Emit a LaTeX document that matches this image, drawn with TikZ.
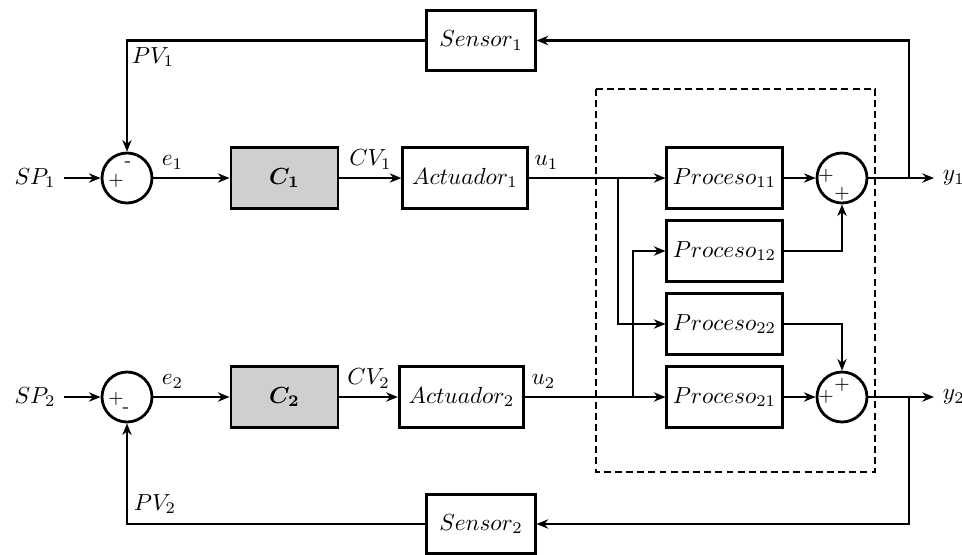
\documentclass[tikz,border=0pt]{standalone}
\usepackage{bm}
\usepackage{xcolor}
\usepackage{tikz}
\usetikzlibrary{arrows.meta,calc}

\begin{document}
\begin{tikzpicture}[x=0.43pt,y=-0.43pt,>={Stealth[length=5pt,width=4pt]},line width=0.95pt,
  blk/.style={draw,line width=1.25pt,minimum height=26pt,inner sep=2pt},
  ctrl/.style={blk,fill=black!19,minimum width=46pt},
  act/.style={blk,minimum width=53.5pt},
  proc/.style={blk,minimum width=49.5pt},
  sens/.style={blk,minimum width=46.5pt,minimum height=25.5pt},
  sumnode/.style={draw,circle,line width=1.2pt,minimum size=21.5pt,inner sep=0pt},
  sgn/.style={font=\footnotesize,inner sep=0pt}]
  \useasboundingbox (0,0) rectangle (962,554);
  % loop 1
  \node (sp1) at (35,178) {$SP_1$};
  \node[sumnode] (s1) at (127,178) {};
  \node[ctrl] (c1) at (284.5,178) {$\bm{C_1}$};
  \node[act] (a1) at (465,178) {$Actuador_1$};
  \node[sens] (sen1) at (481,40.5) {$Sensor_1$};
  \node[sgn] (s1m) at ($(s1)+(1,-14)$) {-};
  \node[sgn] (s1p) at ($(s1)+(-11,3)$) {+};
  % loop 2
  \node (sp2) at (35,397) {$SP_2$};
  \node[sumnode] (s2) at (127,397) {};
  \node[ctrl] (c2) at (284.5,397) {$\bm{C_2}$};
  \node[act] (a2) at (461.5,397) {$Actuador_2$};
  \node[sens] (sen2) at (481,524) {$Sensor_2$};
  \node[sgn] (s2p) at ($(s2)+(-11,2)$) {+};
  \node[sgn] (s2m) at ($(s2)+(-1,13)$) {-};
  % coupled process
  \draw[dashed,line width=1.2pt,dash pattern=on 3pt off 1.8pt] (596,89) rectangle (875,472);
  \node[proc] (p11) at (724.5,178) {$Proceso_{11}$};
  \node[proc] (p12) at (724.5,251) {$Proceso_{12}$};
  \node[proc] (p22) at (724.5,324) {$Proceso_{22}$};
  \node[proc] (p21) at (724.5,397) {$Proceso_{21}$};
  \node[sumnode] (s3) at (842,178) {};
  \node[sumnode] (s4) at (842,397) {};
  \node[sgn] (s3a) at ($(s3)+(-16,-2)$) {+};
  \node[sgn] (s3b) at ($(s3)+(0,16)$) {+};
  \node[sgn] (s4a) at ($(s4)+(0,-12)$) {+};
  \node[sgn] (s4b) at ($(s4)+(-16,0)$) {+};
  \node[anchor=west] (y1) at (934,178) {$y_1$};
  \node[anchor=west] (y2) at (934,397) {$y_2$};
  \coordinate (b1) at (618,178);
  \coordinate (b2) at (633,397);
  \coordinate (t1) at (909,178);
  \coordinate (t2) at (909,397);

  % forward paths
  \draw[->] (sp1) -- (s1);
  \draw[->] (s1) -- node[pos=0.25,above] (e1) {$e_1$} (c1);
  \draw[->] (c1) -- node[above] (cv1) {$CV_1$} (a1);
  \draw[->] (a1) -- node[pos=0.13,above] (u1) {$u_1$} (p11);
  \draw[->] (sp2) -- (s2);
  \draw[->] (s2) -- node[pos=0.25,above] (e2) {$e_2$} (c2);
  \draw[->] (c2) -- node[above] (cv2) {$CV_2$} (a2);
  \draw[->] (a2) -- node[pos=0.13,above] (u2) {$u_2$} (p21);
  % cross couplings
  \draw[->] (b1) |- (p22.west);
  \draw[->] (b2) |- (p12.west);
  \draw[->] (p11) -- (s3);
  \draw[->] (p12.east) -| (s3.south);
  \draw[->] (p22.east) -| (s4.north);
  \draw[->] (p21) -- (s4);
  \draw[->] (s3) -- (y1.west);
  \draw[->] (s4) -- (y2.west);
  % feedback
  \draw[->] (t1) |- (sen1.east);
  \draw[->] (sen1.west) -| (s1.north);
  \node (pv1) at (153,57) {$PV_1$};
  \draw[->] (t2) |- (sen2.east);
  \draw[->] (sen2.west) -| (s2.south);
  \node (pv2) at (155,504) {$PV_2$};
\end{tikzpicture}
\end{document}
